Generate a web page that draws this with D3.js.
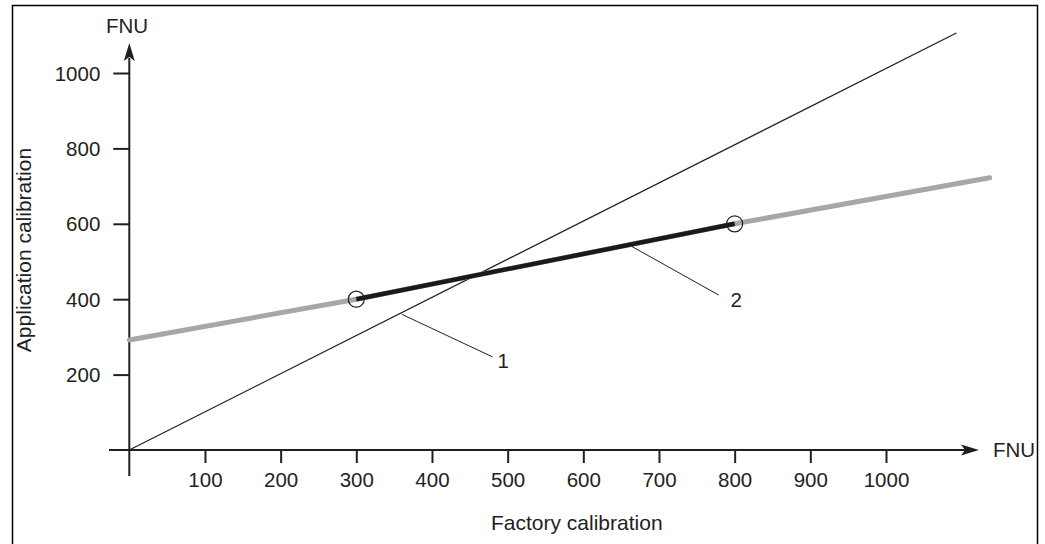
<!DOCTYPE html>
<html><head><meta charset="utf-8">
<script src="https://cdn.jsdelivr.net/npm/d3@7/dist/d3.min.js"></script>
<style>body{margin:0;background:#fff}svg{display:block}text{font-family:"Liberation Sans",Arial,sans-serif;fill:#231f20}</style>
</head><body><svg id="c" width="1045" height="544"></svg>
<script>
// data
const xTicks = [100,200,300,400,500,600,700,800,900,1000];
const yTicks = [200,400,600,800,1000];
const line1 = [[0,0],[1093,1106]];               // factory = application
const grayLine = [[0,292],[300,400],[800,600],[1137,722]];
const darkLine = [[300,400],[800,600]];
const calPoints = [[300,400],[800,600]];
const leader1 = [[360,360],[480,247]];
const leader2 = [[664,540],[779,411]];
const callouts = [{label:"1",x:494,y:236},{label:"2",x:802,y:398}];
const xTitle = "Factory calibration", yTitle = "Application calibration", unit = "FNU";

const svg = d3.select("#c");
const x = d3.scaleLinear().domain([0,1000]).range([129.3,886]);
const y = d3.scaleLinear().domain([0,1000]).range([450,73]);
const ink = "#231f20";
const fs = 20.5;

// frame (left, top, right)
svg.append("path").attr("d","M12.5,544V5.5H1037.5V544").attr("fill","none").attr("stroke","#000").attr("stroke-width",1.5);

// axes
const xa = svg.append("g").attr("transform","translate(0,450)")
  .call(d3.axisBottom(x).tickValues(xTicks).tickSize(13).tickPadding(10).tickFormat(d3.format("d")));
const ya = svg.append("g").attr("transform","translate(129.3,0)")
  .call(d3.axisLeft(y).tickValues(yTicks).tickSize(16).tickPadding(13).tickFormat(d3.format("d")));
[xa,ya].forEach(g=>{
  g.select(".domain").remove();
  g.selectAll(".tick line").attr("stroke",ink).attr("stroke-width",2);
  g.selectAll(".tick text").attr("font-size",fs).attr("fill",ink).style("font-family","'Liberation Sans',Arial,sans-serif");
});
ya.selectAll(".tick text").attr("dy","0.35em");
xa.selectAll(".tick text").attr("y",37).attr("dy",0);

// axis lines with arrows
svg.append("line").attr("x1",109).attr("x2",966).attr("y1",450).attr("y2",450).attr("stroke",ink).attr("stroke-width",2);
svg.append("line").attr("x1",129.3).attr("x2",129.3).attr("y1",476).attr("y2",58).attr("stroke",ink).attr("stroke-width",2);
svg.append("path").attr("d","M979,450L961,444.5L965,450L961,455.5Z").attr("fill",ink);
svg.append("path").attr("d","M129.3,43L123.8,61L129.3,57L134.8,61Z").attr("fill",ink);

svg.append("text").attr("x",127).attr("y",33).attr("text-anchor","middle").attr("font-size",fs).text(unit);
svg.append("text").attr("x",993).attr("y",457).attr("font-size",fs).text(unit);
svg.append("text").attr("x",491).attr("y",530).attr("font-size",21).text(xTitle);
svg.append("text").attr("transform","translate(31,250) rotate(-90)").attr("text-anchor","middle").attr("font-size",21).text(yTitle);

const lg = d3.line().x(d=>x(d[0])).y(d=>y(d[1]));
svg.append("path").attr("d",lg(line1)).attr("fill","none").attr("stroke",ink).attr("stroke-width",1.3);
svg.append("path").attr("d",lg(grayLine)).attr("fill","none").attr("stroke","#a7a7aa").attr("stroke-width",5).attr("stroke-linecap","round");
svg.append("path").attr("d",lg(darkLine)).attr("fill","none").attr("stroke","#1a1a1a").attr("stroke-width",4.5);
svg.selectAll("circle.cp").data(calPoints).join("circle").attr("class","cp")
  .attr("cx",d=>x(d[0])).attr("cy",d=>y(d[1])).attr("r",8).attr("fill","none").attr("stroke",ink).attr("stroke-width",1.2);
[leader1,leader2].forEach(l=>svg.append("path").attr("d",lg(l)).attr("fill","none").attr("stroke",ink).attr("stroke-width",1));
svg.selectAll("text.co").data(callouts).join("text").attr("class","co")
  .attr("x",d=>x(d.x)).attr("y",d=>y(d.y)).attr("dy","0.35em").attr("text-anchor","middle").attr("font-size",fs).text(d=>d.label);
</script></body></html>
